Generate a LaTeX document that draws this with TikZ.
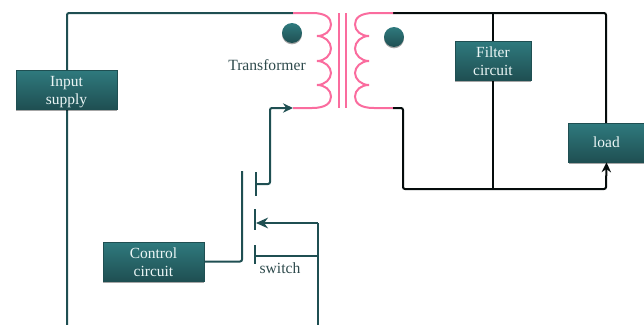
\documentclass[tikz,border=0pt]{standalone}
\usepackage{fontspec}
\setmainfont{Liberation Serif}
\usetikzlibrary{shadows,arrows.meta,positioning}
\definecolor{tealdark}{HTML}{1F4F52}
\definecolor{teallight}{HTML}{2F7A7E}
\definecolor{coilpink}{HTML}{FA6C9E}
\definecolor{labeltxt}{HTML}{2E4A4C}
\newcommand\firstline{\rule{0pt}{12pt}}
\newcommand\secondline{\rule[-3.4pt]{0pt}{9pt}}
\tikzset{
  blockbox/.style={rectangle,minimum width=#1*0.75pt,minimum height=29.25pt,inner sep=0pt,
    top color=teallight,bottom color=tealdark,draw=tealdark,line width=0.4pt,
    drop shadow={shadow xshift=0pt,shadow yshift=-1.5pt,opacity=0.35,fill=black},
    text=white!92!teal,align=center,font=\fontsize{11.6pt}{13.8pt}\selectfont},
  ball/.style={circle,minimum size=15pt,inner sep=0pt,top color=teallight,bottom color=tealdark,
    drop shadow={shadow xshift=0pt,shadow yshift=-1pt,opacity=0.35,fill=black}},
  wire/.style={line width=1.5pt,color=tealdark,rounded corners=1.5pt},
  blackwire/.style={line width=1.5pt,color=black!85!tealdark,rounded corners=1.5pt},
  coil/.style={line width=1.5pt,color=coilpink},
  plate/.style={line width=1.7pt,color=tealdark},
  lbl/.style={text=labeltxt,inner sep=0pt,font=\fontsize{11.7pt}{14pt}\selectfont},
  tip/.style={-{Stealth[length=7.5pt,width=7pt]}},
  bigtip/.style={-{Stealth[length=9pt,width=8pt]}}
}
\begin{document}
\begin{tikzpicture}[x=0.75pt,y=-0.75pt]
\useasboundingbox (0,0) rectangle (644,325);
% free ends and junctions
\coordinate (inBot) at (67,325);
\coordinate (inCorner) at (67,13);
\coordinate (priTop) at (293,13);
\coordinate (priBot) at (293,108);
\coordinate (secTop) at (393,13);
\coordinate (secBot) at (393,108);
\coordinate (filterTop) at (493,13);
\coordinate (filterBot) at (493,189);
\coordinate (loadCornerTop) at (606,13);
\coordinate (plateA) at (256,184);
\coordinate (plateB) at (256,223);
\coordinate (plateC) at (256,256);
\coordinate (retBot) at (318,325);
\coordinate (retMid) at (318,256);
\coordinate (retTop) at (318,223);
\coordinate (gateTop) at (242,171);
% wires under the boxes
\draw[wire] (inBot) -- (inCorner) -- (priTop);
\draw[blackwire] (secTop) -- (loadCornerTop) -- (606,125);
\draw[blackwire] (filterTop) -- (filterBot);
% transformer
\draw[coil] (priTop) -- (312,13) .. controls (326,13) and (331,18) .. (331,24.5)
  .. controls (331,31) and (325,36) .. (317,36)
  .. controls (325,36) and (331,42) .. (331,48.5)
  .. controls (331,55) and (325,61) .. (317,61)
  .. controls (325,61) and (331,67) .. (331,73)
  .. controls (331,79) and (325,85) .. (317,85)
  .. controls (325,85) and (331,90) .. (331,96.5)
  .. controls (331,103) and (326,108) .. (312,108) -- (priBot);
\draw[coil] (secTop) -- (374,13) .. controls (360,13) and (355,18) .. (355,24.5)
  .. controls (355,31) and (361,36) .. (369,36)
  .. controls (361,36) and (355,42) .. (355,48.5)
  .. controls (355,55) and (361,61) .. (369,61)
  .. controls (361,61) and (355,67) .. (355,73)
  .. controls (355,79) and (361,85) .. (369,85)
  .. controls (361,85) and (355,90) .. (355,96.5)
  .. controls (355,103) and (360,108) .. (374,108) -- (secBot);
\draw[coil] (339,13) -- (339,108);
\draw[coil] (346,13) -- (346,108);
\node[ball] (dotL) at (292,33) {};
\node[ball] (dotR) at (394,37) {};
\node[lbl] (xfLabel) at (267,65.5) {Transformer};
% boxes
\node[blockbox=101] (input) at (66.5,89.5) {\firstline Input\\\secondline supply};
\node[blockbox=101] (control) at (153.5,261.5) {\firstline Control\\\secondline circuit};
\node[blockbox=76] (filter) at (493,60.5) {\firstline Filter\\\secondline circuit};
\node[blockbox=76] (load) at (606.5,142.5) {load};
% secondary return to load
\draw[blackwire,tip] (secBot) -- (403,108) -- (403,189) -- (606,189) -- (load.south);
% switch
\draw[plate] (256,172) -- (256,196);
\draw[plate] (255,209) -- (255,230);
\draw[plate] (255,245) -- (255,264);
\draw[wire] (control.east) -- (control.east -| gateTop) -- (gateTop);
\draw[wire,tip] (plateA) -- (270,184) -- (270,108) -- (priBot);
\draw[wire] (retBot) -- (retTop);
\draw[wire,bigtip] (retTop) -- (plateB);
\draw[wire] (plateC) -- (retMid);
\node[lbl] (swLabel) at (280,268.5) {switch};
\end{tikzpicture}
\end{document}
